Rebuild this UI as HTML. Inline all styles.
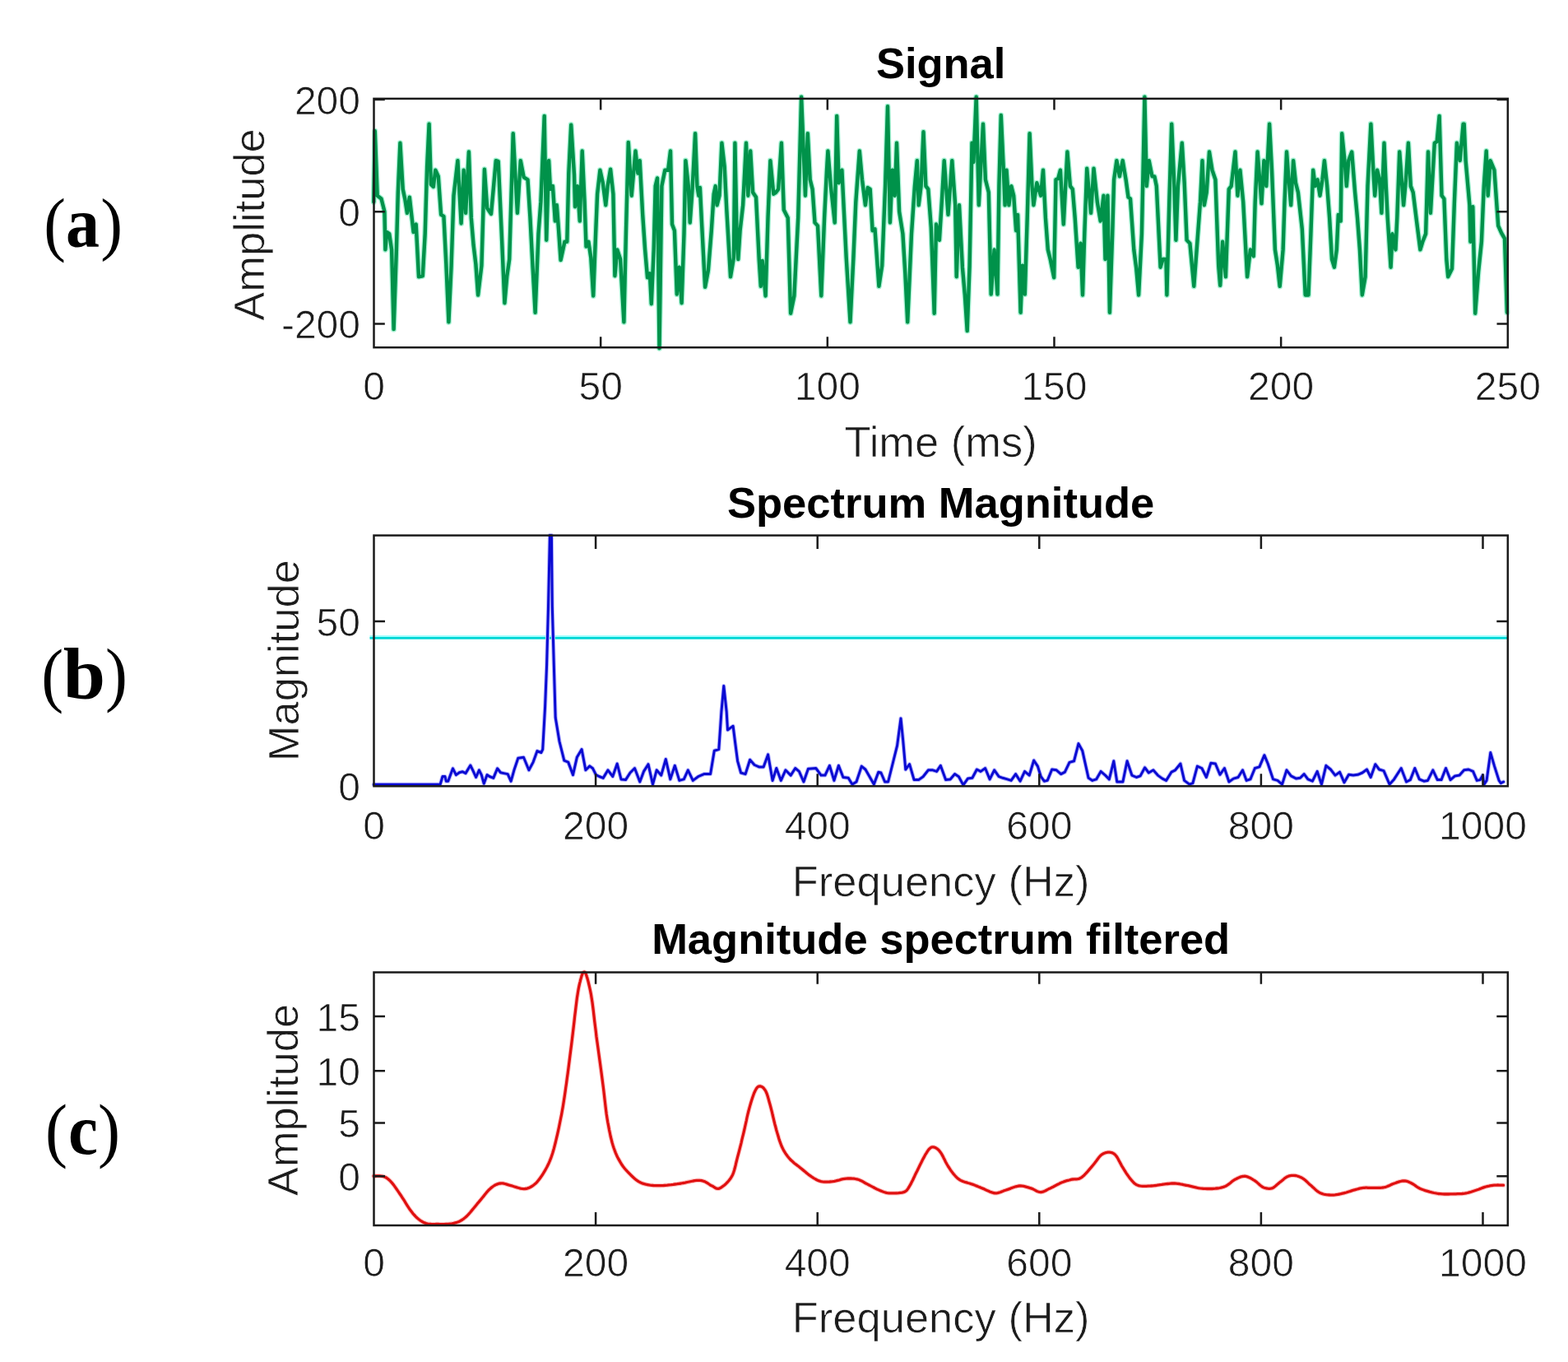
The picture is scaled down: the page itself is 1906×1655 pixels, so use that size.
<!DOCTYPE html>
<html><head><meta charset="utf-8"><title>Signal spectrum figure</title>
<style>html,body{margin:0;padding:0;background:#fff;}body{width:1906px;height:1655px;overflow:hidden;}svg{display:block;filter:blur(0.45px);}</style>
</head><body>
<svg width="1906" height="1655" viewBox="0 0 1906 1655" font-family="'Liberation Sans', Arial, Helvetica, sans-serif">
<rect width="1906" height="1655" fill="#fff"/>
<polyline points="454.3,245.4 455.8,159.3 458.7,237.7 463.5,241.5 467.4,257.0 468.4,303.4 470.3,282.1 473.2,284.1 476.1,303.4 478.6,400.1 481.9,303.4 483.8,233.8 486.4,173.8 489.7,229.9 492.3,242.0 494.9,258.9 497.8,239.6 501.3,270.5 502.6,282.1 505.7,272.5 509.0,336.3 513.8,335.3 516.7,284.1 519.1,202.8 521.6,150.6 523.9,224.1 526.8,227.0 529.3,206.7 532.8,214.4 536.1,260.9 539.4,262.8 542.4,322.2 545.4,391.4 548.6,322.8 551.5,237.7 556.4,195.1 560.6,271.5 563.7,206.7 566.1,258.9 569.9,184.5 572.8,264.7 575.6,298.1 578.4,321.3 581.1,358.5 585.4,322.8 588.9,205.7 592.2,253.1 597.0,259.9 599.9,228.0 602.8,195.1 605.7,196.1 609.6,280.3 613.4,368.2 616.3,335.4 619.2,315.0 623.7,162.2 626.3,210.7 628.9,258.9 632.8,195.1 636.7,215.4 641.5,218.3 644.5,265.7 647.6,325.1 650.6,379.8 654.5,284.1 657.4,245.4 661.7,140.9 664.2,291.8 667.1,195.1 669.0,229.9 671.9,226.1 674.8,268.6 676.8,249.3 678.7,274.4 681.6,316.0 686.4,293.8 689.3,293.8 691.3,210.6 694.2,151.6 698.0,212.5 699.0,251.2 701.9,226.1 704.8,268.6 707.7,183.5 710.6,245.4 712.5,299.6 715.4,293.8 718.3,313.1 721.2,359.5 724.1,284.1 726.1,235.7 729.4,206.7 732.8,222.2 736.3,249.3 738.6,226.1 742.1,205.7 745.4,235.7 747.4,335.3 750.3,303.4 754.1,315.0 758.4,391.4 760.9,284.1 763.8,172.9 767.7,237.7 772.5,183.5 775.4,210.6 777.7,195.1 781.2,260.9 784.1,303.4 787.0,337.3 789.9,332.4 791.8,369.2 794.7,303.4 796.7,226.1 799.0,216.4 801.5,423.3 804.4,226.1 808.3,206.7 812.1,206.7 815.0,183.5 817.0,272.5 819.9,280.2 822.8,357.6 825.7,324.7 828.6,368.2 831.5,284.1 833.4,195.1 836.8,226.1 838.7,270.5 841.6,229.9 845.1,162.2 847.4,226.1 849.3,237.7 850.9,228.0 853.2,274.4 857.1,348.9 860.9,328.6 864.8,280.2 867.7,235.7 869.7,226.1 871.6,249.3 874.5,237.7 877.4,173.8 880.7,202.8 883.2,253.1 888.0,336.3 891.9,313.1 893.4,173.8 895.8,293.8 897.3,315.0 899.6,280.2 903.1,249.3 907.0,173.8 909.3,237.7 912.2,183.5 915.1,233.8 919.0,239.6 922.8,317.0 924.8,347.9 926.7,317.0 930.6,359.5 933.5,264.7 936.4,195.1 940.3,235.7 943.2,233.8 946.1,229.9 949.9,173.8 952.8,255.1 957.7,264.7 961.1,380.8 965.4,359.5 970.2,264.7 974.1,117.7 978.9,237.7 981.8,162.2 984.7,218.3 987.6,229.9 990.5,270.5 994.0,274.4 998.3,359.5 1002.1,264.7 1005.0,206.7 1006.4,183.5 1009.9,226.1 1014.7,270.5 1017.2,140.9 1019.6,222.2 1023.4,206.7 1025.8,255.1 1028.7,313.1 1033.5,391.4 1037.4,313.1 1040.3,245.4 1044.8,183.5 1048.0,218.3 1051.9,249.3 1054.8,228.0 1057.7,229.9 1060.6,280.2 1063.5,278.3 1068.4,347.9 1072.2,322.8 1076.1,226.1 1079.0,129.3 1081.9,270.5 1084.8,206.7 1087.7,237.7 1090.0,173.8 1093.1,257.0 1097.4,284.1 1100.3,331.7 1103.2,391.4 1108.0,284.1 1111.9,226.1 1114.8,195.1 1116.7,249.3 1119.6,226.1 1122.5,160.3 1125.4,226.1 1128.3,229.9 1131.8,276.3 1135.7,380.8 1138.0,272.5 1141.9,291.8 1144.8,245.4 1147.7,195.1 1152.5,260.9 1157.3,195.1 1161.2,249.3 1162.7,336.3 1166.0,249.3 1169.9,324.7 1172.8,357.7 1175.7,402.1 1178.6,322.8 1181.5,173.8 1183.4,197.0 1186.7,117.7 1189.8,249.3 1192.4,198.9 1195.0,150.6 1197.9,218.3 1201.8,233.8 1204.7,357.6 1208.6,303.4 1212.5,357.6 1214.4,226.1 1216.8,140.0 1219.7,202.8 1221.6,249.3 1223.5,206.7 1226.4,249.3 1229.3,226.1 1232.2,237.7 1235.1,280.2 1237.1,260.9 1240.6,379.8 1242.9,322.8 1245.8,357.6 1248.7,264.7 1251.6,162.2 1254.5,226.1 1256.4,249.3 1260.3,222.2 1265.1,237.7 1268.0,206.7 1270.9,264.7 1273.8,303.4 1276.7,315.0 1281.2,337.3 1283.5,218.3 1286.2,217.1 1288.9,206.7 1292.8,272.5 1297.4,184.5 1300.9,226.1 1303.8,229.9 1306.7,264.7 1310.6,324.7 1313.5,295.7 1316.0,358.5 1318.3,284.1 1321.2,204.8 1326.1,258.9 1329.5,204.8 1333.8,245.4 1337.7,268.6 1341.5,237.7 1343.5,315.0 1346.4,237.7 1348.9,379.8 1352.2,284.1 1354.1,218.3 1357.4,195.1 1360.9,214.4 1364.7,195.1 1368.6,218.3 1371.5,239.6 1374.0,241.5 1378.3,303.4 1381.2,325.7 1384.1,358.5 1387.9,284.1 1391.4,117.7 1393.8,226.1 1396.7,195.1 1400.5,214.4 1403.4,214.4 1405.8,226.1 1410.6,324.7 1413.5,315.0 1417.4,315.0 1418.4,358.5 1421.3,245.4 1424.2,150.6 1427.1,218.3 1429.4,291.8 1431.9,226.1 1436.8,173.8 1439.7,222.2 1442.6,291.8 1446.4,295.7 1451.3,347.9 1456.1,284.1 1459.0,245.4 1461.5,195.1 1463.8,249.3 1466.7,233.8 1470.0,184.5 1473.5,206.7 1477.4,218.3 1481.2,322.8 1483.2,346.9 1486.1,293.8 1489.9,336.3 1493.8,229.9 1496.7,226.1 1501.5,184.5 1504.4,237.7 1507.4,206.7 1511.2,245.4 1516.1,336.3 1519.9,303.4 1523.8,311.2 1525.7,245.4 1528.6,184.5 1533.5,247.3 1536.4,195.1 1539.3,226.1 1543.1,150.6 1546.0,206.7 1549.9,303.4 1552.8,321.8 1555.7,347.9 1559.6,303.4 1561.5,245.4 1564.0,184.5 1566.6,218.7 1569.2,249.3 1572.1,195.1 1575.0,222.2 1577.9,233.8 1582.8,278.3 1586.7,358.5 1590.5,358.5 1593.4,284.1 1596.2,206.7 1598.7,226.1 1601.6,218.3 1604.5,237.7 1607.4,218.3 1609.9,195.1 1613.2,226.1 1616.1,264.7 1619.0,315.0 1621.9,324.7 1624.8,303.4 1626.8,260.9 1629.7,268.6 1631.2,162.2 1634.5,195.1 1636.8,226.1 1639.3,195.1 1643.2,184.5 1647.1,233.8 1650.0,264.7 1652.9,303.4 1655.8,358.5 1659.6,336.3 1662.5,226.1 1666.4,150.6 1669.3,206.7 1671.2,237.7 1674.1,206.7 1677.0,218.3 1679.4,258.9 1682.5,173.8 1684.8,226.1 1686.7,264.7 1690.6,324.7 1692.5,284.1 1696.4,303.4 1698.3,264.7 1701.2,184.5 1706.1,249.3 1709.0,217.8 1711.9,173.8 1714.8,226.1 1717.7,233.8 1721.5,264.7 1726.4,303.4 1729.3,293.8 1733.1,284.1 1736.0,184.5 1738.9,258.9 1743.8,173.8 1746.7,171.9 1749.6,140.9 1752.5,237.7 1755.4,241.5 1758.3,315.0 1760.2,336.3 1765.0,326.6 1767.9,245.4 1770.9,173.8 1774.7,195.1 1778.6,150.6 1779.7,150.6 1781.6,195.1 1786.4,249.3 1787.4,293.8 1790.3,251.2 1793.2,380.8 1797.1,330.5 1800.9,293.8 1803.8,226.1 1806.7,183.5 1808.7,237.7 1811.6,195.1 1816.4,206.7 1821.2,274.4 1825.1,283.2 1829.0,289.9 1831.9,379.8" fill="none" stroke="#a8f2d4" stroke-width="7.0" stroke-linejoin="round" stroke-linecap="round"/>
<polyline points="454.3,245.4 455.8,159.3 458.7,237.7 463.5,241.5 467.4,257.0 468.4,303.4 470.3,282.1 473.2,284.1 476.1,303.4 478.6,400.1 481.9,303.4 483.8,233.8 486.4,173.8 489.7,229.9 492.3,242.0 494.9,258.9 497.8,239.6 501.3,270.5 502.6,282.1 505.7,272.5 509.0,336.3 513.8,335.3 516.7,284.1 519.1,202.8 521.6,150.6 523.9,224.1 526.8,227.0 529.3,206.7 532.8,214.4 536.1,260.9 539.4,262.8 542.4,322.2 545.4,391.4 548.6,322.8 551.5,237.7 556.4,195.1 560.6,271.5 563.7,206.7 566.1,258.9 569.9,184.5 572.8,264.7 575.6,298.1 578.4,321.3 581.1,358.5 585.4,322.8 588.9,205.7 592.2,253.1 597.0,259.9 599.9,228.0 602.8,195.1 605.7,196.1 609.6,280.3 613.4,368.2 616.3,335.4 619.2,315.0 623.7,162.2 626.3,210.7 628.9,258.9 632.8,195.1 636.7,215.4 641.5,218.3 644.5,265.7 647.6,325.1 650.6,379.8 654.5,284.1 657.4,245.4 661.7,140.9 664.2,291.8 667.1,195.1 669.0,229.9 671.9,226.1 674.8,268.6 676.8,249.3 678.7,274.4 681.6,316.0 686.4,293.8 689.3,293.8 691.3,210.6 694.2,151.6 698.0,212.5 699.0,251.2 701.9,226.1 704.8,268.6 707.7,183.5 710.6,245.4 712.5,299.6 715.4,293.8 718.3,313.1 721.2,359.5 724.1,284.1 726.1,235.7 729.4,206.7 732.8,222.2 736.3,249.3 738.6,226.1 742.1,205.7 745.4,235.7 747.4,335.3 750.3,303.4 754.1,315.0 758.4,391.4 760.9,284.1 763.8,172.9 767.7,237.7 772.5,183.5 775.4,210.6 777.7,195.1 781.2,260.9 784.1,303.4 787.0,337.3 789.9,332.4 791.8,369.2 794.7,303.4 796.7,226.1 799.0,216.4 801.5,423.3 804.4,226.1 808.3,206.7 812.1,206.7 815.0,183.5 817.0,272.5 819.9,280.2 822.8,357.6 825.7,324.7 828.6,368.2 831.5,284.1 833.4,195.1 836.8,226.1 838.7,270.5 841.6,229.9 845.1,162.2 847.4,226.1 849.3,237.7 850.9,228.0 853.2,274.4 857.1,348.9 860.9,328.6 864.8,280.2 867.7,235.7 869.7,226.1 871.6,249.3 874.5,237.7 877.4,173.8 880.7,202.8 883.2,253.1 888.0,336.3 891.9,313.1 893.4,173.8 895.8,293.8 897.3,315.0 899.6,280.2 903.1,249.3 907.0,173.8 909.3,237.7 912.2,183.5 915.1,233.8 919.0,239.6 922.8,317.0 924.8,347.9 926.7,317.0 930.6,359.5 933.5,264.7 936.4,195.1 940.3,235.7 943.2,233.8 946.1,229.9 949.9,173.8 952.8,255.1 957.7,264.7 961.1,380.8 965.4,359.5 970.2,264.7 974.1,117.7 978.9,237.7 981.8,162.2 984.7,218.3 987.6,229.9 990.5,270.5 994.0,274.4 998.3,359.5 1002.1,264.7 1005.0,206.7 1006.4,183.5 1009.9,226.1 1014.7,270.5 1017.2,140.9 1019.6,222.2 1023.4,206.7 1025.8,255.1 1028.7,313.1 1033.5,391.4 1037.4,313.1 1040.3,245.4 1044.8,183.5 1048.0,218.3 1051.9,249.3 1054.8,228.0 1057.7,229.9 1060.6,280.2 1063.5,278.3 1068.4,347.9 1072.2,322.8 1076.1,226.1 1079.0,129.3 1081.9,270.5 1084.8,206.7 1087.7,237.7 1090.0,173.8 1093.1,257.0 1097.4,284.1 1100.3,331.7 1103.2,391.4 1108.0,284.1 1111.9,226.1 1114.8,195.1 1116.7,249.3 1119.6,226.1 1122.5,160.3 1125.4,226.1 1128.3,229.9 1131.8,276.3 1135.7,380.8 1138.0,272.5 1141.9,291.8 1144.8,245.4 1147.7,195.1 1152.5,260.9 1157.3,195.1 1161.2,249.3 1162.7,336.3 1166.0,249.3 1169.9,324.7 1172.8,357.7 1175.7,402.1 1178.6,322.8 1181.5,173.8 1183.4,197.0 1186.7,117.7 1189.8,249.3 1192.4,198.9 1195.0,150.6 1197.9,218.3 1201.8,233.8 1204.7,357.6 1208.6,303.4 1212.5,357.6 1214.4,226.1 1216.8,140.0 1219.7,202.8 1221.6,249.3 1223.5,206.7 1226.4,249.3 1229.3,226.1 1232.2,237.7 1235.1,280.2 1237.1,260.9 1240.6,379.8 1242.9,322.8 1245.8,357.6 1248.7,264.7 1251.6,162.2 1254.5,226.1 1256.4,249.3 1260.3,222.2 1265.1,237.7 1268.0,206.7 1270.9,264.7 1273.8,303.4 1276.7,315.0 1281.2,337.3 1283.5,218.3 1286.2,217.1 1288.9,206.7 1292.8,272.5 1297.4,184.5 1300.9,226.1 1303.8,229.9 1306.7,264.7 1310.6,324.7 1313.5,295.7 1316.0,358.5 1318.3,284.1 1321.2,204.8 1326.1,258.9 1329.5,204.8 1333.8,245.4 1337.7,268.6 1341.5,237.7 1343.5,315.0 1346.4,237.7 1348.9,379.8 1352.2,284.1 1354.1,218.3 1357.4,195.1 1360.9,214.4 1364.7,195.1 1368.6,218.3 1371.5,239.6 1374.0,241.5 1378.3,303.4 1381.2,325.7 1384.1,358.5 1387.9,284.1 1391.4,117.7 1393.8,226.1 1396.7,195.1 1400.5,214.4 1403.4,214.4 1405.8,226.1 1410.6,324.7 1413.5,315.0 1417.4,315.0 1418.4,358.5 1421.3,245.4 1424.2,150.6 1427.1,218.3 1429.4,291.8 1431.9,226.1 1436.8,173.8 1439.7,222.2 1442.6,291.8 1446.4,295.7 1451.3,347.9 1456.1,284.1 1459.0,245.4 1461.5,195.1 1463.8,249.3 1466.7,233.8 1470.0,184.5 1473.5,206.7 1477.4,218.3 1481.2,322.8 1483.2,346.9 1486.1,293.8 1489.9,336.3 1493.8,229.9 1496.7,226.1 1501.5,184.5 1504.4,237.7 1507.4,206.7 1511.2,245.4 1516.1,336.3 1519.9,303.4 1523.8,311.2 1525.7,245.4 1528.6,184.5 1533.5,247.3 1536.4,195.1 1539.3,226.1 1543.1,150.6 1546.0,206.7 1549.9,303.4 1552.8,321.8 1555.7,347.9 1559.6,303.4 1561.5,245.4 1564.0,184.5 1566.6,218.7 1569.2,249.3 1572.1,195.1 1575.0,222.2 1577.9,233.8 1582.8,278.3 1586.7,358.5 1590.5,358.5 1593.4,284.1 1596.2,206.7 1598.7,226.1 1601.6,218.3 1604.5,237.7 1607.4,218.3 1609.9,195.1 1613.2,226.1 1616.1,264.7 1619.0,315.0 1621.9,324.7 1624.8,303.4 1626.8,260.9 1629.7,268.6 1631.2,162.2 1634.5,195.1 1636.8,226.1 1639.3,195.1 1643.2,184.5 1647.1,233.8 1650.0,264.7 1652.9,303.4 1655.8,358.5 1659.6,336.3 1662.5,226.1 1666.4,150.6 1669.3,206.7 1671.2,237.7 1674.1,206.7 1677.0,218.3 1679.4,258.9 1682.5,173.8 1684.8,226.1 1686.7,264.7 1690.6,324.7 1692.5,284.1 1696.4,303.4 1698.3,264.7 1701.2,184.5 1706.1,249.3 1709.0,217.8 1711.9,173.8 1714.8,226.1 1717.7,233.8 1721.5,264.7 1726.4,303.4 1729.3,293.8 1733.1,284.1 1736.0,184.5 1738.9,258.9 1743.8,173.8 1746.7,171.9 1749.6,140.9 1752.5,237.7 1755.4,241.5 1758.3,315.0 1760.2,336.3 1765.0,326.6 1767.9,245.4 1770.9,173.8 1774.7,195.1 1778.6,150.6 1779.7,150.6 1781.6,195.1 1786.4,249.3 1787.4,293.8 1790.3,251.2 1793.2,380.8 1797.1,330.5 1800.9,293.8 1803.8,226.1 1806.7,183.5 1808.7,237.7 1811.6,195.1 1816.4,206.7 1821.2,274.4 1825.1,283.2 1829.0,289.9 1831.9,379.8" fill="none" stroke="#00924a" stroke-width="4.4" stroke-linejoin="round" stroke-linecap="round"/>
<line x1="449.5" y1="773.2" x2="1832.8" y2="773.2" stroke="#a0ffff" stroke-width="2.6"/>
<line x1="449.5" y1="775.4" x2="1832.8" y2="775.4" stroke="#00d6d4" stroke-width="2.8"/>
<polyline points="454.3,953.2 535.1,953.2 538.0,943.5 540.9,943.5 542.4,949.3 544.7,949.3 550.5,933.8 554.4,941.6 558.3,938.7 562.1,937.7 566.0,939.6 571.8,930.0 574.7,935.8 578.6,944.5 582.4,935.8 585.3,941.6 588.2,952.2 592.1,941.6 595.0,943.5 599.8,945.4 604.6,933.8 608.5,938.7 612.4,939.6 617.2,940.6 621.1,949.3 624.9,935.8 629.8,921.3 636.5,920.3 642.9,935.8 648.1,926.1 653.0,912.6 657.8,914.5 659.7,910.6 662.6,858.4 664.6,808.2 666.5,736.7 668.4,650.6 670.4,650.6 671.3,736.7 673.3,808.2 675.2,872.0 680.0,901.0 685.8,924.2 690.7,926.1 696.5,941.6 701.3,920.3 707.1,910.6 711.9,935.8 716.8,930.9 720.6,933.8 724.5,941.6 728.4,943.5 733.2,945.4 739.0,935.8 744.8,943.5 750.2,928.0 755.0,946.9 760.5,947.6 766.0,939.0 771.5,933.5 777.8,950.0 782.5,937.4 788.0,928.7 793.5,953.1 798.2,935.8 803.7,942.1 809.3,922.5 814.8,946.9 820.3,930.3 825.8,948.4 831.3,946.9 836.3,935.8 842.3,948.4 848.6,943.7 855.7,940.6 863.6,940.6 868.3,912.2 873.8,910.6 876.9,865.0 879.8,833.5 883.2,865.0 884.5,887.0 888.7,883.9 891.1,882.3 893.5,901.2 896.6,924.8 900.6,939.0 906.1,940.6 911.6,923.2 917.1,929.5 922.6,931.9 928.1,931.9 933.6,916.9 939.1,948.4 943.8,933.5 949.3,948.4 954.9,935.8 961.2,942.1 966.7,933.5 971.4,937.4 976.9,950.0 982.4,934.3 991.8,933.5 998.1,942.1 1002.9,942.1 1008.4,930.3 1013.9,948.4 1019.4,930.3 1024.9,944.5 1031.2,945.3 1035.9,953.1 1041.0,950.0 1047.3,931.1 1052.0,935.0 1062.3,953.1 1067.8,938.2 1070.9,939.0 1075.6,950.0 1079.6,950.0 1085.1,928.0 1090.6,905.9 1095.0,872.9 1097.7,899.6 1100.8,935.0 1105.6,928.7 1111.1,947.6 1116.6,947.6 1122.1,943.7 1128.4,935.8 1133.9,935.8 1138.6,937.4 1143.3,930.3 1149.6,947.6 1155.1,946.9 1160.6,940.6 1165.4,943.7 1170.9,953.9 1176.4,946.1 1181.9,945.3 1187.4,935.0 1192.1,937.4 1197.6,933.5 1203.1,946.9 1208.7,935.8 1214.2,943.7 1218.9,945.3 1224.4,946.9 1229.1,948.4 1234.6,940.6 1240.1,949.2 1245.6,937.4 1251.2,942.1 1256.7,924.0 1261.4,931.1 1265.3,943.7 1269.3,949.2 1273.2,948.4 1278.7,935.0 1284.2,935.8 1289.7,940.6 1294.4,938.2 1300.0,926.4 1305.5,924.8 1311.0,903.6 1315.7,912.2 1323.1,945.3 1327.9,948.4 1332.6,946.9 1338.1,937.4 1343.6,942.1 1348.3,946.9 1353.8,924.8 1357.8,950.0 1364.9,950.0 1370.1,924.8 1375.9,942.1 1381.4,944.5 1386.1,942.9 1391.6,932.7 1396.3,939.0 1401.9,935.8 1407.4,942.1 1412.9,946.1 1417.6,948.4 1423.9,938.2 1428.6,935.8 1434.9,928.0 1439.6,948.4 1445.9,953.1 1449.9,951.6 1455.4,931.1 1460.9,933.5 1466.4,944.5 1471.9,927.2 1477.4,928.0 1482.9,941.3 1488.4,933.5 1493.9,950.0 1499.4,946.1 1505.0,944.5 1510.5,935.8 1515.2,948.4 1519.9,946.9 1525.4,933.5 1530.9,931.9 1536.9,917.7 1541.2,928.0 1547.5,946.9 1553.0,948.4 1558.5,953.1 1564.0,935.8 1569.4,942.9 1575.7,946.1 1580.5,945.3 1585.2,940.6 1589.9,946.9 1595.4,949.2 1601.2,937.4 1606.4,953.1 1611.9,930.3 1617.5,935.0 1623.0,942.1 1628.5,938.2 1634.0,950.8 1639.5,941.3 1645.0,942.1 1650.5,941.3 1656.0,939.0 1661.5,935.0 1666.2,944.5 1671.8,928.7 1676.5,935.0 1682.0,936.6 1689.1,953.1 1694.6,946.9 1703.2,933.5 1709.5,950.0 1714.3,947.6 1719.8,933.5 1725.3,946.9 1730.8,949.2 1735.5,948.4 1741.8,935.8 1747.3,947.6 1752.0,947.6 1757.5,933.5 1763.1,947.6 1768.6,942.9 1774.1,942.1 1779.6,935.8 1785.1,935.0 1790.6,937.4 1795.3,948.4 1799.3,947.6 1802.4,942.1 1804.0,953.1 1807.1,948.4 1811.8,914.6 1816.6,931.1 1822.1,948.4 1824.4,951.6 1827.6,950.0" fill="none" stroke="#b8b8ff" stroke-width="5.0" stroke-linejoin="round" stroke-linecap="round"/>
<polyline points="454.3,953.2 535.1,953.2 538.0,943.5 540.9,943.5 542.4,949.3 544.7,949.3 550.5,933.8 554.4,941.6 558.3,938.7 562.1,937.7 566.0,939.6 571.8,930.0 574.7,935.8 578.6,944.5 582.4,935.8 585.3,941.6 588.2,952.2 592.1,941.6 595.0,943.5 599.8,945.4 604.6,933.8 608.5,938.7 612.4,939.6 617.2,940.6 621.1,949.3 624.9,935.8 629.8,921.3 636.5,920.3 642.9,935.8 648.1,926.1 653.0,912.6 657.8,914.5 659.7,910.6 662.6,858.4 664.6,808.2 666.5,736.7 668.4,650.6 670.4,650.6 671.3,736.7 673.3,808.2 675.2,872.0 680.0,901.0 685.8,924.2 690.7,926.1 696.5,941.6 701.3,920.3 707.1,910.6 711.9,935.8 716.8,930.9 720.6,933.8 724.5,941.6 728.4,943.5 733.2,945.4 739.0,935.8 744.8,943.5 750.2,928.0 755.0,946.9 760.5,947.6 766.0,939.0 771.5,933.5 777.8,950.0 782.5,937.4 788.0,928.7 793.5,953.1 798.2,935.8 803.7,942.1 809.3,922.5 814.8,946.9 820.3,930.3 825.8,948.4 831.3,946.9 836.3,935.8 842.3,948.4 848.6,943.7 855.7,940.6 863.6,940.6 868.3,912.2 873.8,910.6 876.9,865.0 879.8,833.5 883.2,865.0 884.5,887.0 888.7,883.9 891.1,882.3 893.5,901.2 896.6,924.8 900.6,939.0 906.1,940.6 911.6,923.2 917.1,929.5 922.6,931.9 928.1,931.9 933.6,916.9 939.1,948.4 943.8,933.5 949.3,948.4 954.9,935.8 961.2,942.1 966.7,933.5 971.4,937.4 976.9,950.0 982.4,934.3 991.8,933.5 998.1,942.1 1002.9,942.1 1008.4,930.3 1013.9,948.4 1019.4,930.3 1024.9,944.5 1031.2,945.3 1035.9,953.1 1041.0,950.0 1047.3,931.1 1052.0,935.0 1062.3,953.1 1067.8,938.2 1070.9,939.0 1075.6,950.0 1079.6,950.0 1085.1,928.0 1090.6,905.9 1095.0,872.9 1097.7,899.6 1100.8,935.0 1105.6,928.7 1111.1,947.6 1116.6,947.6 1122.1,943.7 1128.4,935.8 1133.9,935.8 1138.6,937.4 1143.3,930.3 1149.6,947.6 1155.1,946.9 1160.6,940.6 1165.4,943.7 1170.9,953.9 1176.4,946.1 1181.9,945.3 1187.4,935.0 1192.1,937.4 1197.6,933.5 1203.1,946.9 1208.7,935.8 1214.2,943.7 1218.9,945.3 1224.4,946.9 1229.1,948.4 1234.6,940.6 1240.1,949.2 1245.6,937.4 1251.2,942.1 1256.7,924.0 1261.4,931.1 1265.3,943.7 1269.3,949.2 1273.2,948.4 1278.7,935.0 1284.2,935.8 1289.7,940.6 1294.4,938.2 1300.0,926.4 1305.5,924.8 1311.0,903.6 1315.7,912.2 1323.1,945.3 1327.9,948.4 1332.6,946.9 1338.1,937.4 1343.6,942.1 1348.3,946.9 1353.8,924.8 1357.8,950.0 1364.9,950.0 1370.1,924.8 1375.9,942.1 1381.4,944.5 1386.1,942.9 1391.6,932.7 1396.3,939.0 1401.9,935.8 1407.4,942.1 1412.9,946.1 1417.6,948.4 1423.9,938.2 1428.6,935.8 1434.9,928.0 1439.6,948.4 1445.9,953.1 1449.9,951.6 1455.4,931.1 1460.9,933.5 1466.4,944.5 1471.9,927.2 1477.4,928.0 1482.9,941.3 1488.4,933.5 1493.9,950.0 1499.4,946.1 1505.0,944.5 1510.5,935.8 1515.2,948.4 1519.9,946.9 1525.4,933.5 1530.9,931.9 1536.9,917.7 1541.2,928.0 1547.5,946.9 1553.0,948.4 1558.5,953.1 1564.0,935.8 1569.4,942.9 1575.7,946.1 1580.5,945.3 1585.2,940.6 1589.9,946.9 1595.4,949.2 1601.2,937.4 1606.4,953.1 1611.9,930.3 1617.5,935.0 1623.0,942.1 1628.5,938.2 1634.0,950.8 1639.5,941.3 1645.0,942.1 1650.5,941.3 1656.0,939.0 1661.5,935.0 1666.2,944.5 1671.8,928.7 1676.5,935.0 1682.0,936.6 1689.1,953.1 1694.6,946.9 1703.2,933.5 1709.5,950.0 1714.3,947.6 1719.8,933.5 1725.3,946.9 1730.8,949.2 1735.5,948.4 1741.8,935.8 1747.3,947.6 1752.0,947.6 1757.5,933.5 1763.1,947.6 1768.6,942.9 1774.1,942.1 1779.6,935.8 1785.1,935.0 1790.6,937.4 1795.3,948.4 1799.3,947.6 1802.4,942.1 1804.0,953.1 1807.1,948.4 1811.8,914.6 1816.6,931.1 1822.1,948.4 1824.4,951.6 1827.6,950.0" fill="none" stroke="#0a0ad2" stroke-width="3.0" stroke-linejoin="round" stroke-linecap="round"/>
<polyline points="454.2,1429.0 455.2,1429.0 456.5,1429.0 458.1,1428.9 459.8,1428.9 461.6,1428.9 463.4,1429.1 465.0,1429.3 466.5,1429.7 467.8,1430.2 469.0,1430.8 470.2,1431.5 471.3,1432.3 472.4,1433.2 473.5,1434.2 474.7,1435.4 476.0,1436.8 477.3,1438.4 478.7,1440.1 480.1,1442.1 481.6,1444.2 483.1,1446.4 484.6,1448.6 486.2,1451.0 487.8,1453.3 489.4,1455.8 491.2,1458.5 492.9,1461.4 494.7,1464.3 496.5,1467.1 498.3,1469.8 500.2,1472.3 501.9,1474.6 503.7,1476.5 505.4,1478.3 507.1,1480.0 508.9,1481.5 510.6,1482.8 512.4,1484.0 514.2,1485.0 516.1,1485.9 518.0,1486.6 520.0,1487.1 522.0,1487.3 524.1,1487.5 526.2,1487.6 528.3,1487.6 530.4,1487.5 532.6,1487.5 534.9,1487.6 537.3,1487.6 539.8,1487.6 542.2,1487.5 544.7,1487.4 547.1,1487.1 549.4,1486.8 551.5,1486.4 553.5,1485.8 555.3,1485.3 557.1,1484.7 558.8,1483.9 560.4,1483.1 562.1,1482.0 563.8,1480.8 565.7,1479.3 567.7,1477.5 569.7,1475.3 571.8,1473.0 573.9,1470.4 576.1,1467.8 578.2,1465.2 580.2,1462.7 582.2,1460.4 584.1,1458.1 586.0,1455.8 587.8,1453.6 589.6,1451.3 591.3,1449.2 593.1,1447.2 594.7,1445.4 596.4,1443.9 598.0,1442.6 599.5,1441.5 601.0,1440.5 602.4,1439.7 603.9,1439.1 605.3,1438.6 606.7,1438.2 608.2,1438.0 609.6,1437.9 611.0,1437.9 612.4,1438.2 613.8,1438.5 615.2,1438.9 616.7,1439.4 618.3,1439.9 620.0,1440.3 621.9,1440.8 623.9,1441.5 626.0,1442.2 628.3,1442.9 630.5,1443.5 632.6,1444.1 634.6,1444.4 636.5,1444.6 638.2,1444.5 639.9,1444.3 641.4,1443.9 642.9,1443.4 644.3,1442.8 645.6,1442.0 647.0,1441.2 648.3,1440.3 649.6,1439.3 650.8,1438.3 652.0,1437.1 653.2,1435.8 654.3,1434.4 655.5,1432.9 656.6,1431.4 657.8,1429.7 659.0,1428.0 660.2,1426.1 661.4,1424.1 662.6,1422.1 663.8,1420.0 665.0,1417.8 666.1,1415.5 667.2,1413.2 668.2,1410.9 669.1,1408.6 670.0,1406.3 670.8,1403.9 671.7,1401.3 672.5,1398.5 673.4,1395.4 674.3,1391.9 675.3,1388.0 676.3,1383.6 677.4,1379.0 678.5,1374.1 679.6,1369.0 680.6,1364.0 681.6,1359.0 682.6,1354.2 683.4,1349.5 684.2,1345.1 684.9,1340.7 685.6,1336.3 686.3,1331.8 687.0,1327.0 687.7,1321.9 688.5,1316.4 689.3,1310.3 690.2,1303.9 691.1,1297.0 692.0,1290.0 692.9,1282.8 693.8,1275.7 694.7,1268.8 695.5,1262.1 696.3,1255.5 697.1,1248.7 697.9,1242.0 698.6,1235.4 699.4,1229.0 700.1,1223.0 700.8,1217.4 701.4,1212.5 702.1,1208.2 702.7,1204.4 703.3,1201.0 703.9,1198.1 704.5,1195.4 705.1,1193.1 705.6,1190.9 706.2,1188.9 706.7,1187.1 707.1,1185.6 707.6,1184.3 708.0,1183.3 708.4,1182.5 708.8,1181.9 709.3,1181.6 709.7,1181.3 710.1,1181.2 710.5,1181.2 710.9,1181.4 711.3,1181.8 711.7,1182.5 712.2,1183.5 712.7,1184.8 713.2,1186.5 713.9,1188.6 714.6,1191.1 715.3,1193.8 716.0,1196.9 716.8,1200.3 717.6,1204.0 718.4,1208.1 719.1,1212.5 719.9,1217.4 720.6,1222.7 721.3,1228.4 722.0,1234.5 722.7,1240.7 723.5,1247.1 724.3,1253.4 725.0,1259.7 725.9,1266.0 726.8,1272.5 727.7,1279.1 728.6,1285.7 729.5,1292.3 730.4,1298.9 731.3,1305.4 732.1,1311.7 732.9,1317.9 733.7,1324.1 734.4,1330.3 735.1,1336.4 735.8,1342.4 736.5,1348.2 737.2,1353.7 738.0,1358.9 738.8,1363.8 739.7,1368.4 740.5,1372.8 741.4,1377.0 742.2,1381.0 743.2,1384.8 744.1,1388.5 745.1,1391.9 746.2,1395.2 747.3,1398.2 748.4,1401.1 749.5,1403.7 750.7,1406.2 752.0,1408.6 753.3,1410.9 754.6,1413.2 755.9,1415.3 757.3,1417.3 758.8,1419.2 760.3,1421.0 761.8,1422.7 763.4,1424.3 764.9,1425.8 766.4,1427.3 767.8,1428.8 769.3,1430.2 770.7,1431.5 772.1,1432.7 773.6,1433.9 775.1,1435.0 776.6,1435.9 778.2,1436.8 779.8,1437.5 781.5,1438.2 783.2,1438.7 785.0,1439.1 786.7,1439.5 788.6,1439.8 790.4,1440.1 792.3,1440.3 794.3,1440.5 796.2,1440.6 798.3,1440.7 800.3,1440.7 802.4,1440.7 804.5,1440.6 806.7,1440.5 808.9,1440.3 811.1,1440.2 813.4,1439.9 815.8,1439.7 818.2,1439.4 820.6,1439.0 823.0,1438.7 825.4,1438.3 827.8,1438.0 830.2,1437.5 832.7,1437.1 835.2,1436.5 837.8,1436.0 840.2,1435.5 842.6,1435.0 844.7,1434.7 846.6,1434.4 848.3,1434.3 849.7,1434.3 850.9,1434.3 852.0,1434.5 853.0,1434.6 853.9,1434.9 855.0,1435.2 856.1,1435.6 857.3,1436.1 858.4,1436.7 859.6,1437.4 860.8,1438.2 862.0,1439.0 863.2,1439.8 864.3,1440.5 865.5,1441.0 866.7,1441.6 867.8,1442.3 868.8,1443.0 869.9,1443.7 871.1,1444.2 872.3,1444.4 873.5,1444.3 875.0,1443.9 876.6,1443.0 878.4,1441.7 880.4,1440.2 882.4,1438.4 884.3,1436.5 886.2,1434.3 888.0,1432.0 889.4,1429.7 890.7,1427.2 891.7,1424.6 892.6,1421.7 893.4,1418.8 894.2,1415.7 894.9,1412.5 895.7,1409.3 896.5,1406.1 897.4,1402.8 898.3,1399.4 899.2,1395.9 900.1,1392.4 901.0,1388.8 901.8,1385.1 902.7,1381.4 903.6,1377.8 904.5,1374.0 905.4,1370.0 906.3,1366.0 907.2,1362.0 908.0,1358.0 908.9,1354.1 909.8,1350.5 910.7,1347.1 911.6,1343.9 912.5,1340.7 913.4,1337.7 914.3,1334.9 915.2,1332.3 916.1,1329.8 916.9,1327.7 917.8,1325.8 918.6,1324.3 919.3,1323.0 920.0,1322.0 920.7,1321.2 921.4,1320.6 922.1,1320.2 922.9,1320.0 923.7,1319.9 924.5,1320.0 925.4,1320.3 926.3,1320.7 927.2,1321.3 928.1,1322.1 929.0,1323.2 929.9,1324.4 930.8,1325.8 931.5,1327.5 932.3,1329.4 933.0,1331.5 933.7,1333.9 934.4,1336.4 935.1,1339.0 935.9,1341.8 936.7,1344.7 937.5,1347.8 938.4,1351.3 939.2,1355.0 940.1,1358.7 941.0,1362.5 941.9,1366.2 942.9,1369.8 943.7,1373.0 944.6,1376.1 945.5,1379.0 946.3,1381.8 947.1,1384.6 948.0,1387.2 948.9,1389.6 949.8,1392.0 950.8,1394.3 951.9,1396.4 952.9,1398.4 954.0,1400.2 955.1,1402.0 956.3,1403.6 957.5,1405.2 958.8,1406.8 960.3,1408.5 961.8,1410.1 963.5,1411.6 965.3,1413.2 967.2,1414.7 969.1,1416.1 971.0,1417.5 972.7,1418.9 974.4,1420.3 976.0,1421.6 977.6,1422.9 979.0,1424.1 980.5,1425.4 981.9,1426.5 983.3,1427.6 984.8,1428.7 986.2,1429.7 987.7,1430.7 989.1,1431.6 990.6,1432.4 992.0,1433.2 993.4,1434.0 994.9,1434.6 996.5,1435.2 998.0,1435.6 999.7,1435.9 1001.4,1436.1 1003.1,1436.2 1004.8,1436.2 1006.6,1436.1 1008.4,1436.0 1010.3,1435.8 1012.2,1435.6 1014.2,1435.3 1016.2,1434.9 1018.3,1434.3 1020.5,1433.8 1022.6,1433.2 1024.7,1432.7 1026.8,1432.3 1028.7,1432.1 1030.6,1432.0 1032.5,1431.9 1034.3,1432.0 1036.1,1432.1 1037.9,1432.2 1039.6,1432.5 1041.3,1432.8 1042.9,1433.2 1044.5,1433.7 1046.0,1434.4 1047.4,1435.1 1048.8,1435.8 1050.2,1436.6 1051.6,1437.5 1053.1,1438.3 1054.7,1439.1 1056.4,1440.0 1058.1,1440.9 1060.0,1441.9 1061.8,1442.8 1063.6,1443.8 1065.4,1444.7 1067.2,1445.5 1068.9,1446.2 1070.4,1446.9 1071.9,1447.5 1073.2,1448.0 1074.6,1448.5 1075.9,1448.9 1077.4,1449.3 1078.9,1449.6 1080.7,1449.8 1082.7,1449.9 1084.9,1449.9 1087.4,1449.9 1089.8,1449.8 1092.3,1449.7 1094.6,1449.4 1096.6,1449.1 1098.4,1448.6 1099.8,1448.1 1100.9,1447.5 1101.8,1446.8 1102.5,1446.0 1103.2,1445.1 1103.9,1444.1 1104.6,1442.9 1105.5,1441.5 1106.4,1439.9 1107.4,1438.1 1108.4,1436.1 1109.5,1434.0 1110.5,1431.8 1111.6,1429.5 1112.6,1427.2 1113.7,1425.0 1114.9,1422.7 1116.1,1420.2 1117.3,1417.7 1118.5,1415.2 1119.8,1412.7 1121.0,1410.3 1122.1,1408.1 1123.2,1406.1 1124.2,1404.3 1125.1,1402.6 1126.1,1401.1 1126.9,1399.7 1127.8,1398.4 1128.6,1397.3 1129.4,1396.3 1130.3,1395.5 1131.0,1394.8 1131.8,1394.3 1132.5,1394.0 1133.2,1393.8 1133.9,1393.8 1134.6,1393.9 1135.4,1394.0 1136.2,1394.3 1137.0,1394.6 1137.8,1395.0 1138.7,1395.6 1139.6,1396.2 1140.5,1397.0 1141.4,1397.9 1142.3,1399.0 1143.2,1400.2 1144.2,1401.7 1145.2,1403.4 1146.3,1405.4 1147.3,1407.5 1148.4,1409.6 1149.4,1411.7 1150.5,1413.7 1151.5,1415.5 1152.5,1417.2 1153.6,1418.8 1154.6,1420.4 1155.6,1422.0 1156.7,1423.4 1157.7,1424.8 1158.7,1426.1 1159.8,1427.3 1160.8,1428.5 1161.7,1429.5 1162.6,1430.4 1163.5,1431.3 1164.5,1432.1 1165.6,1432.9 1166.7,1433.7 1168.0,1434.4 1169.5,1435.1 1171.2,1435.8 1173.0,1436.4 1174.9,1436.9 1176.8,1437.5 1178.7,1438.0 1180.5,1438.6 1182.2,1439.1 1183.8,1439.7 1185.2,1440.3 1186.6,1440.9 1188.0,1441.4 1189.4,1442.0 1190.9,1442.6 1192.4,1443.2 1194.0,1443.9 1195.8,1444.6 1197.6,1445.5 1199.6,1446.4 1201.6,1447.3 1203.6,1448.2 1205.6,1448.9 1207.5,1449.5 1209.4,1449.8 1211.1,1449.8 1212.7,1449.6 1214.2,1449.2 1215.8,1448.7 1217.3,1448.1 1218.9,1447.5 1220.6,1446.8 1222.3,1446.2 1224.2,1445.6 1226.3,1444.9 1228.4,1444.1 1230.5,1443.2 1232.7,1442.5 1234.8,1441.8 1236.9,1441.3 1238.9,1441.0 1240.8,1441.0 1242.6,1441.1 1244.5,1441.4 1246.2,1441.8 1248.0,1442.3 1249.7,1442.8 1251.4,1443.4 1253.0,1443.9 1254.6,1444.4 1256.1,1445.1 1257.6,1445.9 1259.1,1446.7 1260.5,1447.4 1261.9,1448.0 1263.4,1448.4 1264.8,1448.6 1266.3,1448.5 1267.7,1448.1 1269.2,1447.6 1270.6,1447.0 1272.0,1446.2 1273.5,1445.4 1275.0,1444.6 1276.6,1443.9 1278.3,1443.1 1280.1,1442.2 1281.9,1441.2 1283.7,1440.3 1285.6,1439.3 1287.4,1438.4 1289.1,1437.5 1290.8,1436.8 1292.4,1436.2 1293.9,1435.6 1295.4,1435.1 1296.9,1434.7 1298.3,1434.3 1299.7,1434.0 1301.1,1433.6 1302.6,1433.2 1304.1,1433.0 1305.5,1432.9 1306.9,1432.8 1308.3,1432.8 1309.8,1432.7 1311.3,1432.4 1312.8,1431.8 1314.4,1430.9 1316.1,1429.6 1318.0,1427.9 1319.9,1425.9 1321.8,1423.8 1323.7,1421.6 1325.6,1419.4 1327.3,1417.4 1328.9,1415.5 1330.3,1413.8 1331.6,1412.1 1332.8,1410.5 1333.9,1408.9 1335.0,1407.4 1336.1,1406.0 1337.2,1404.8 1338.3,1403.7 1339.5,1402.8 1340.7,1402.1 1341.9,1401.5 1343.1,1401.0 1344.3,1400.6 1345.5,1400.4 1346.7,1400.2 1347.8,1400.2 1348.9,1400.2 1349.9,1400.3 1351.0,1400.5 1352.0,1400.9 1353.0,1401.3 1354.0,1401.9 1355.0,1402.7 1356.0,1403.7 1357.1,1405.0 1358.1,1406.5 1359.1,1408.3 1360.1,1410.2 1361.1,1412.1 1362.2,1414.1 1363.2,1416.1 1364.3,1417.9 1365.4,1419.7 1366.6,1421.6 1367.8,1423.5 1368.9,1425.4 1370.2,1427.2 1371.4,1428.9 1372.6,1430.6 1373.7,1432.1 1374.9,1433.4 1375.9,1434.7 1377.0,1435.9 1378.0,1437.0 1379.1,1438.0 1380.3,1438.9 1381.7,1439.7 1383.2,1440.3 1384.9,1440.8 1386.9,1441.1 1389.0,1441.3 1391.2,1441.3 1393.4,1441.3 1395.6,1441.2 1397.7,1441.1 1399.7,1441.0 1401.6,1440.9 1403.4,1440.7 1405.2,1440.5 1406.9,1440.2 1408.7,1439.9 1410.4,1439.6 1412.1,1439.4 1413.9,1439.1 1415.7,1438.9 1417.4,1438.7 1419.2,1438.5 1421.0,1438.3 1422.7,1438.1 1424.5,1438.0 1426.3,1437.9 1428.0,1438.0 1429.8,1438.1 1431.5,1438.3 1433.3,1438.5 1435.0,1438.9 1436.7,1439.2 1438.5,1439.6 1440.3,1440.0 1442.2,1440.3 1444.2,1440.7 1446.2,1441.2 1448.2,1441.7 1450.3,1442.2 1452.4,1442.7 1454.6,1443.2 1456.7,1443.6 1458.7,1443.9 1460.8,1444.1 1462.9,1444.3 1465.0,1444.4 1467.2,1444.5 1469.2,1444.5 1471.3,1444.5 1473.3,1444.5 1475.3,1444.3 1477.2,1444.2 1479.0,1444.0 1480.9,1443.8 1482.6,1443.5 1484.4,1443.1 1486.1,1442.7 1487.8,1442.1 1489.4,1441.5 1491.0,1440.7 1492.5,1439.7 1494.0,1438.6 1495.5,1437.5 1496.9,1436.3 1498.3,1435.1 1499.8,1434.1 1501.2,1433.2 1502.7,1432.5 1504.2,1431.7 1505.7,1431.0 1507.1,1430.4 1508.6,1429.9 1510.1,1429.5 1511.6,1429.3 1513.0,1429.2 1514.5,1429.4 1516.0,1429.8 1517.5,1430.4 1519.0,1431.1 1520.5,1431.8 1522.0,1432.7 1523.4,1433.6 1524.8,1434.4 1526.2,1435.4 1527.6,1436.4 1528.9,1437.6 1530.2,1438.8 1531.5,1440.0 1532.8,1441.0 1534.1,1442.0 1535.5,1442.7 1536.8,1443.2 1538.2,1443.7 1539.5,1444.0 1540.9,1444.2 1542.2,1444.3 1543.5,1444.3 1544.8,1444.2 1546.1,1443.9 1547.3,1443.4 1548.5,1442.7 1549.7,1441.8 1550.9,1440.8 1552.0,1439.8 1553.2,1438.8 1554.4,1437.7 1555.5,1436.8 1556.7,1435.9 1557.9,1434.9 1559.1,1433.9 1560.3,1432.9 1561.4,1431.9 1562.6,1431.1 1563.8,1430.3 1565.0,1429.7 1566.2,1429.2 1567.3,1428.9 1568.5,1428.6 1569.7,1428.4 1570.9,1428.4 1572.1,1428.3 1573.2,1428.4 1574.4,1428.5 1575.6,1428.7 1576.8,1429.0 1578.0,1429.3 1579.1,1429.7 1580.3,1430.2 1581.5,1430.7 1582.7,1431.4 1583.9,1432.1 1585.0,1432.9 1586.2,1433.8 1587.3,1434.8 1588.4,1435.8 1589.6,1436.9 1590.8,1438.1 1592.0,1439.2 1593.3,1440.3 1594.7,1441.5 1596.0,1442.8 1597.5,1444.1 1598.9,1445.4 1600.4,1446.7 1601.9,1447.9 1603.5,1448.9 1605.1,1449.8 1606.8,1450.4 1608.5,1451.0 1610.3,1451.4 1612.1,1451.7 1613.9,1451.9 1615.7,1452.0 1617.5,1452.1 1619.3,1452.1 1621.1,1452.1 1622.9,1451.9 1624.7,1451.6 1626.5,1451.3 1628.3,1451.0 1630.1,1450.6 1631.8,1450.2 1633.4,1449.8 1635.0,1449.4 1636.6,1449.0 1638.0,1448.5 1639.5,1448.0 1640.9,1447.6 1642.4,1447.1 1643.8,1446.6 1645.3,1446.2 1646.7,1445.8 1648.2,1445.4 1649.7,1445.0 1651.2,1444.6 1652.6,1444.2 1654.1,1443.9 1655.6,1443.6 1657.1,1443.4 1658.5,1443.3 1660.0,1443.2 1661.4,1443.2 1662.8,1443.3 1664.3,1443.3 1665.7,1443.4 1667.3,1443.4 1668.9,1443.4 1670.5,1443.4 1672.3,1443.4 1674.1,1443.4 1675.9,1443.3 1677.8,1443.3 1679.6,1443.2 1681.4,1443.0 1683.0,1442.7 1684.6,1442.3 1686.1,1441.8 1687.6,1441.1 1689.1,1440.5 1690.5,1439.8 1691.9,1439.1 1693.4,1438.5 1694.8,1438.0 1696.3,1437.5 1697.8,1436.9 1699.4,1436.4 1700.9,1435.9 1702.4,1435.5 1703.9,1435.2 1705.3,1435.0 1706.6,1434.9 1707.9,1435.0 1709.1,1435.1 1710.2,1435.4 1711.4,1435.8 1712.5,1436.3 1713.6,1436.8 1714.8,1437.3 1716.1,1438.0 1717.4,1438.7 1718.7,1439.5 1720.0,1440.4 1721.3,1441.4 1722.7,1442.3 1724.3,1443.3 1726.0,1444.2 1727.9,1445.0 1730.0,1445.8 1732.4,1446.6 1735.0,1447.4 1737.6,1448.2 1740.4,1448.9 1743.1,1449.5 1745.8,1450.0 1748.3,1450.5 1750.8,1450.7 1753.4,1450.9 1755.9,1451.0 1758.4,1451.0 1760.8,1451.0 1763.2,1450.9 1765.5,1450.9 1767.7,1450.8 1769.7,1450.8 1771.7,1450.7 1773.6,1450.7 1775.4,1450.6 1777.1,1450.5 1778.8,1450.3 1780.5,1450.1 1782.2,1449.8 1783.8,1449.5 1785.4,1449.1 1786.9,1448.7 1788.4,1448.2 1789.8,1447.7 1791.3,1447.2 1792.8,1446.7 1794.3,1446.2 1795.8,1445.7 1797.3,1445.2 1798.9,1444.6 1800.5,1444.0 1802.0,1443.4 1803.5,1442.9 1804.9,1442.4 1806.3,1442.0 1807.7,1441.6 1808.9,1441.3 1810.1,1441.1 1811.2,1440.8 1812.4,1440.6 1813.5,1440.5 1814.7,1440.3 1816.0,1440.2 1817.4,1440.1 1819.0,1440.1 1820.7,1440.0 1822.4,1440.1 1823.9,1440.1 1825.4,1440.1 1826.6,1440.2 1827.5,1440.2" fill="none" stroke="#ffc4c4" stroke-width="5.4" stroke-linejoin="round" stroke-linecap="round"/>
<polyline points="454.2,1429.0 455.2,1429.0 456.5,1429.0 458.1,1428.9 459.8,1428.9 461.6,1428.9 463.4,1429.1 465.0,1429.3 466.5,1429.7 467.8,1430.2 469.0,1430.8 470.2,1431.5 471.3,1432.3 472.4,1433.2 473.5,1434.2 474.7,1435.4 476.0,1436.8 477.3,1438.4 478.7,1440.1 480.1,1442.1 481.6,1444.2 483.1,1446.4 484.6,1448.6 486.2,1451.0 487.8,1453.3 489.4,1455.8 491.2,1458.5 492.9,1461.4 494.7,1464.3 496.5,1467.1 498.3,1469.8 500.2,1472.3 501.9,1474.6 503.7,1476.5 505.4,1478.3 507.1,1480.0 508.9,1481.5 510.6,1482.8 512.4,1484.0 514.2,1485.0 516.1,1485.9 518.0,1486.6 520.0,1487.1 522.0,1487.3 524.1,1487.5 526.2,1487.6 528.3,1487.6 530.4,1487.5 532.6,1487.5 534.9,1487.6 537.3,1487.6 539.8,1487.6 542.2,1487.5 544.7,1487.4 547.1,1487.1 549.4,1486.8 551.5,1486.4 553.5,1485.8 555.3,1485.3 557.1,1484.7 558.8,1483.9 560.4,1483.1 562.1,1482.0 563.8,1480.8 565.7,1479.3 567.7,1477.5 569.7,1475.3 571.8,1473.0 573.9,1470.4 576.1,1467.8 578.2,1465.2 580.2,1462.7 582.2,1460.4 584.1,1458.1 586.0,1455.8 587.8,1453.6 589.6,1451.3 591.3,1449.2 593.1,1447.2 594.7,1445.4 596.4,1443.9 598.0,1442.6 599.5,1441.5 601.0,1440.5 602.4,1439.7 603.9,1439.1 605.3,1438.6 606.7,1438.2 608.2,1438.0 609.6,1437.9 611.0,1437.9 612.4,1438.2 613.8,1438.5 615.2,1438.9 616.7,1439.4 618.3,1439.9 620.0,1440.3 621.9,1440.8 623.9,1441.5 626.0,1442.2 628.3,1442.9 630.5,1443.5 632.6,1444.1 634.6,1444.4 636.5,1444.6 638.2,1444.5 639.9,1444.3 641.4,1443.9 642.9,1443.4 644.3,1442.8 645.6,1442.0 647.0,1441.2 648.3,1440.3 649.6,1439.3 650.8,1438.3 652.0,1437.1 653.2,1435.8 654.3,1434.4 655.5,1432.9 656.6,1431.4 657.8,1429.7 659.0,1428.0 660.2,1426.1 661.4,1424.1 662.6,1422.1 663.8,1420.0 665.0,1417.8 666.1,1415.5 667.2,1413.2 668.2,1410.9 669.1,1408.6 670.0,1406.3 670.8,1403.9 671.7,1401.3 672.5,1398.5 673.4,1395.4 674.3,1391.9 675.3,1388.0 676.3,1383.6 677.4,1379.0 678.5,1374.1 679.6,1369.0 680.6,1364.0 681.6,1359.0 682.6,1354.2 683.4,1349.5 684.2,1345.1 684.9,1340.7 685.6,1336.3 686.3,1331.8 687.0,1327.0 687.7,1321.9 688.5,1316.4 689.3,1310.3 690.2,1303.9 691.1,1297.0 692.0,1290.0 692.9,1282.8 693.8,1275.7 694.7,1268.8 695.5,1262.1 696.3,1255.5 697.1,1248.7 697.9,1242.0 698.6,1235.4 699.4,1229.0 700.1,1223.0 700.8,1217.4 701.4,1212.5 702.1,1208.2 702.7,1204.4 703.3,1201.0 703.9,1198.1 704.5,1195.4 705.1,1193.1 705.6,1190.9 706.2,1188.9 706.7,1187.1 707.1,1185.6 707.6,1184.3 708.0,1183.3 708.4,1182.5 708.8,1181.9 709.3,1181.6 709.7,1181.3 710.1,1181.2 710.5,1181.2 710.9,1181.4 711.3,1181.8 711.7,1182.5 712.2,1183.5 712.7,1184.8 713.2,1186.5 713.9,1188.6 714.6,1191.1 715.3,1193.8 716.0,1196.9 716.8,1200.3 717.6,1204.0 718.4,1208.1 719.1,1212.5 719.9,1217.4 720.6,1222.7 721.3,1228.4 722.0,1234.5 722.7,1240.7 723.5,1247.1 724.3,1253.4 725.0,1259.7 725.9,1266.0 726.8,1272.5 727.7,1279.1 728.6,1285.7 729.5,1292.3 730.4,1298.9 731.3,1305.4 732.1,1311.7 732.9,1317.9 733.7,1324.1 734.4,1330.3 735.1,1336.4 735.8,1342.4 736.5,1348.2 737.2,1353.7 738.0,1358.9 738.8,1363.8 739.7,1368.4 740.5,1372.8 741.4,1377.0 742.2,1381.0 743.2,1384.8 744.1,1388.5 745.1,1391.9 746.2,1395.2 747.3,1398.2 748.4,1401.1 749.5,1403.7 750.7,1406.2 752.0,1408.6 753.3,1410.9 754.6,1413.2 755.9,1415.3 757.3,1417.3 758.8,1419.2 760.3,1421.0 761.8,1422.7 763.4,1424.3 764.9,1425.8 766.4,1427.3 767.8,1428.8 769.3,1430.2 770.7,1431.5 772.1,1432.7 773.6,1433.9 775.1,1435.0 776.6,1435.9 778.2,1436.8 779.8,1437.5 781.5,1438.2 783.2,1438.7 785.0,1439.1 786.7,1439.5 788.6,1439.8 790.4,1440.1 792.3,1440.3 794.3,1440.5 796.2,1440.6 798.3,1440.7 800.3,1440.7 802.4,1440.7 804.5,1440.6 806.7,1440.5 808.9,1440.3 811.1,1440.2 813.4,1439.9 815.8,1439.7 818.2,1439.4 820.6,1439.0 823.0,1438.7 825.4,1438.3 827.8,1438.0 830.2,1437.5 832.7,1437.1 835.2,1436.5 837.8,1436.0 840.2,1435.5 842.6,1435.0 844.7,1434.7 846.6,1434.4 848.3,1434.3 849.7,1434.3 850.9,1434.3 852.0,1434.5 853.0,1434.6 853.9,1434.9 855.0,1435.2 856.1,1435.6 857.3,1436.1 858.4,1436.7 859.6,1437.4 860.8,1438.2 862.0,1439.0 863.2,1439.8 864.3,1440.5 865.5,1441.0 866.7,1441.6 867.8,1442.3 868.8,1443.0 869.9,1443.7 871.1,1444.2 872.3,1444.4 873.5,1444.3 875.0,1443.9 876.6,1443.0 878.4,1441.7 880.4,1440.2 882.4,1438.4 884.3,1436.5 886.2,1434.3 888.0,1432.0 889.4,1429.7 890.7,1427.2 891.7,1424.6 892.6,1421.7 893.4,1418.8 894.2,1415.7 894.9,1412.5 895.7,1409.3 896.5,1406.1 897.4,1402.8 898.3,1399.4 899.2,1395.9 900.1,1392.4 901.0,1388.8 901.8,1385.1 902.7,1381.4 903.6,1377.8 904.5,1374.0 905.4,1370.0 906.3,1366.0 907.2,1362.0 908.0,1358.0 908.9,1354.1 909.8,1350.5 910.7,1347.1 911.6,1343.9 912.5,1340.7 913.4,1337.7 914.3,1334.9 915.2,1332.3 916.1,1329.8 916.9,1327.7 917.8,1325.8 918.6,1324.3 919.3,1323.0 920.0,1322.0 920.7,1321.2 921.4,1320.6 922.1,1320.2 922.9,1320.0 923.7,1319.9 924.5,1320.0 925.4,1320.3 926.3,1320.7 927.2,1321.3 928.1,1322.1 929.0,1323.2 929.9,1324.4 930.8,1325.8 931.5,1327.5 932.3,1329.4 933.0,1331.5 933.7,1333.9 934.4,1336.4 935.1,1339.0 935.9,1341.8 936.7,1344.7 937.5,1347.8 938.4,1351.3 939.2,1355.0 940.1,1358.7 941.0,1362.5 941.9,1366.2 942.9,1369.8 943.7,1373.0 944.6,1376.1 945.5,1379.0 946.3,1381.8 947.1,1384.6 948.0,1387.2 948.9,1389.6 949.8,1392.0 950.8,1394.3 951.9,1396.4 952.9,1398.4 954.0,1400.2 955.1,1402.0 956.3,1403.6 957.5,1405.2 958.8,1406.8 960.3,1408.5 961.8,1410.1 963.5,1411.6 965.3,1413.2 967.2,1414.7 969.1,1416.1 971.0,1417.5 972.7,1418.9 974.4,1420.3 976.0,1421.6 977.6,1422.9 979.0,1424.1 980.5,1425.4 981.9,1426.5 983.3,1427.6 984.8,1428.7 986.2,1429.7 987.7,1430.7 989.1,1431.6 990.6,1432.4 992.0,1433.2 993.4,1434.0 994.9,1434.6 996.5,1435.2 998.0,1435.6 999.7,1435.9 1001.4,1436.1 1003.1,1436.2 1004.8,1436.2 1006.6,1436.1 1008.4,1436.0 1010.3,1435.8 1012.2,1435.6 1014.2,1435.3 1016.2,1434.9 1018.3,1434.3 1020.5,1433.8 1022.6,1433.2 1024.7,1432.7 1026.8,1432.3 1028.7,1432.1 1030.6,1432.0 1032.5,1431.9 1034.3,1432.0 1036.1,1432.1 1037.9,1432.2 1039.6,1432.5 1041.3,1432.8 1042.9,1433.2 1044.5,1433.7 1046.0,1434.4 1047.4,1435.1 1048.8,1435.8 1050.2,1436.6 1051.6,1437.5 1053.1,1438.3 1054.7,1439.1 1056.4,1440.0 1058.1,1440.9 1060.0,1441.9 1061.8,1442.8 1063.6,1443.8 1065.4,1444.7 1067.2,1445.5 1068.9,1446.2 1070.4,1446.9 1071.9,1447.5 1073.2,1448.0 1074.6,1448.5 1075.9,1448.9 1077.4,1449.3 1078.9,1449.6 1080.7,1449.8 1082.7,1449.9 1084.9,1449.9 1087.4,1449.9 1089.8,1449.8 1092.3,1449.7 1094.6,1449.4 1096.6,1449.1 1098.4,1448.6 1099.8,1448.1 1100.9,1447.5 1101.8,1446.8 1102.5,1446.0 1103.2,1445.1 1103.9,1444.1 1104.6,1442.9 1105.5,1441.5 1106.4,1439.9 1107.4,1438.1 1108.4,1436.1 1109.5,1434.0 1110.5,1431.8 1111.6,1429.5 1112.6,1427.2 1113.7,1425.0 1114.9,1422.7 1116.1,1420.2 1117.3,1417.7 1118.5,1415.2 1119.8,1412.7 1121.0,1410.3 1122.1,1408.1 1123.2,1406.1 1124.2,1404.3 1125.1,1402.6 1126.1,1401.1 1126.9,1399.7 1127.8,1398.4 1128.6,1397.3 1129.4,1396.3 1130.3,1395.5 1131.0,1394.8 1131.8,1394.3 1132.5,1394.0 1133.2,1393.8 1133.9,1393.8 1134.6,1393.9 1135.4,1394.0 1136.2,1394.3 1137.0,1394.6 1137.8,1395.0 1138.7,1395.6 1139.6,1396.2 1140.5,1397.0 1141.4,1397.9 1142.3,1399.0 1143.2,1400.2 1144.2,1401.7 1145.2,1403.4 1146.3,1405.4 1147.3,1407.5 1148.4,1409.6 1149.4,1411.7 1150.5,1413.7 1151.5,1415.5 1152.5,1417.2 1153.6,1418.8 1154.6,1420.4 1155.6,1422.0 1156.7,1423.4 1157.7,1424.8 1158.7,1426.1 1159.8,1427.3 1160.8,1428.5 1161.7,1429.5 1162.6,1430.4 1163.5,1431.3 1164.5,1432.1 1165.6,1432.9 1166.7,1433.7 1168.0,1434.4 1169.5,1435.1 1171.2,1435.8 1173.0,1436.4 1174.9,1436.9 1176.8,1437.5 1178.7,1438.0 1180.5,1438.6 1182.2,1439.1 1183.8,1439.7 1185.2,1440.3 1186.6,1440.9 1188.0,1441.4 1189.4,1442.0 1190.9,1442.6 1192.4,1443.2 1194.0,1443.9 1195.8,1444.6 1197.6,1445.5 1199.6,1446.4 1201.6,1447.3 1203.6,1448.2 1205.6,1448.9 1207.5,1449.5 1209.4,1449.8 1211.1,1449.8 1212.7,1449.6 1214.2,1449.2 1215.8,1448.7 1217.3,1448.1 1218.9,1447.5 1220.6,1446.8 1222.3,1446.2 1224.2,1445.6 1226.3,1444.9 1228.4,1444.1 1230.5,1443.2 1232.7,1442.5 1234.8,1441.8 1236.9,1441.3 1238.9,1441.0 1240.8,1441.0 1242.6,1441.1 1244.5,1441.4 1246.2,1441.8 1248.0,1442.3 1249.7,1442.8 1251.4,1443.4 1253.0,1443.9 1254.6,1444.4 1256.1,1445.1 1257.6,1445.9 1259.1,1446.7 1260.5,1447.4 1261.9,1448.0 1263.4,1448.4 1264.8,1448.6 1266.3,1448.5 1267.7,1448.1 1269.2,1447.6 1270.6,1447.0 1272.0,1446.2 1273.5,1445.4 1275.0,1444.6 1276.6,1443.9 1278.3,1443.1 1280.1,1442.2 1281.9,1441.2 1283.7,1440.3 1285.6,1439.3 1287.4,1438.4 1289.1,1437.5 1290.8,1436.8 1292.4,1436.2 1293.9,1435.6 1295.4,1435.1 1296.9,1434.7 1298.3,1434.3 1299.7,1434.0 1301.1,1433.6 1302.6,1433.2 1304.1,1433.0 1305.5,1432.9 1306.9,1432.8 1308.3,1432.8 1309.8,1432.7 1311.3,1432.4 1312.8,1431.8 1314.4,1430.9 1316.1,1429.6 1318.0,1427.9 1319.9,1425.9 1321.8,1423.8 1323.7,1421.6 1325.6,1419.4 1327.3,1417.4 1328.9,1415.5 1330.3,1413.8 1331.6,1412.1 1332.8,1410.5 1333.9,1408.9 1335.0,1407.4 1336.1,1406.0 1337.2,1404.8 1338.3,1403.7 1339.5,1402.8 1340.7,1402.1 1341.9,1401.5 1343.1,1401.0 1344.3,1400.6 1345.5,1400.4 1346.7,1400.2 1347.8,1400.2 1348.9,1400.2 1349.9,1400.3 1351.0,1400.5 1352.0,1400.9 1353.0,1401.3 1354.0,1401.9 1355.0,1402.7 1356.0,1403.7 1357.1,1405.0 1358.1,1406.5 1359.1,1408.3 1360.1,1410.2 1361.1,1412.1 1362.2,1414.1 1363.2,1416.1 1364.3,1417.9 1365.4,1419.7 1366.6,1421.6 1367.8,1423.5 1368.9,1425.4 1370.2,1427.2 1371.4,1428.9 1372.6,1430.6 1373.7,1432.1 1374.9,1433.4 1375.9,1434.7 1377.0,1435.9 1378.0,1437.0 1379.1,1438.0 1380.3,1438.9 1381.7,1439.7 1383.2,1440.3 1384.9,1440.8 1386.9,1441.1 1389.0,1441.3 1391.2,1441.3 1393.4,1441.3 1395.6,1441.2 1397.7,1441.1 1399.7,1441.0 1401.6,1440.9 1403.4,1440.7 1405.2,1440.5 1406.9,1440.2 1408.7,1439.9 1410.4,1439.6 1412.1,1439.4 1413.9,1439.1 1415.7,1438.9 1417.4,1438.7 1419.2,1438.5 1421.0,1438.3 1422.7,1438.1 1424.5,1438.0 1426.3,1437.9 1428.0,1438.0 1429.8,1438.1 1431.5,1438.3 1433.3,1438.5 1435.0,1438.9 1436.7,1439.2 1438.5,1439.6 1440.3,1440.0 1442.2,1440.3 1444.2,1440.7 1446.2,1441.2 1448.2,1441.7 1450.3,1442.2 1452.4,1442.7 1454.6,1443.2 1456.7,1443.6 1458.7,1443.9 1460.8,1444.1 1462.9,1444.3 1465.0,1444.4 1467.2,1444.5 1469.2,1444.5 1471.3,1444.5 1473.3,1444.5 1475.3,1444.3 1477.2,1444.2 1479.0,1444.0 1480.9,1443.8 1482.6,1443.5 1484.4,1443.1 1486.1,1442.7 1487.8,1442.1 1489.4,1441.5 1491.0,1440.7 1492.5,1439.7 1494.0,1438.6 1495.5,1437.5 1496.9,1436.3 1498.3,1435.1 1499.8,1434.1 1501.2,1433.2 1502.7,1432.5 1504.2,1431.7 1505.7,1431.0 1507.1,1430.4 1508.6,1429.9 1510.1,1429.5 1511.6,1429.3 1513.0,1429.2 1514.5,1429.4 1516.0,1429.8 1517.5,1430.4 1519.0,1431.1 1520.5,1431.8 1522.0,1432.7 1523.4,1433.6 1524.8,1434.4 1526.2,1435.4 1527.6,1436.4 1528.9,1437.6 1530.2,1438.8 1531.5,1440.0 1532.8,1441.0 1534.1,1442.0 1535.5,1442.7 1536.8,1443.2 1538.2,1443.7 1539.5,1444.0 1540.9,1444.2 1542.2,1444.3 1543.5,1444.3 1544.8,1444.2 1546.1,1443.9 1547.3,1443.4 1548.5,1442.7 1549.7,1441.8 1550.9,1440.8 1552.0,1439.8 1553.2,1438.8 1554.4,1437.7 1555.5,1436.8 1556.7,1435.9 1557.9,1434.9 1559.1,1433.9 1560.3,1432.9 1561.4,1431.9 1562.6,1431.1 1563.8,1430.3 1565.0,1429.7 1566.2,1429.2 1567.3,1428.9 1568.5,1428.6 1569.7,1428.4 1570.9,1428.4 1572.1,1428.3 1573.2,1428.4 1574.4,1428.5 1575.6,1428.7 1576.8,1429.0 1578.0,1429.3 1579.1,1429.7 1580.3,1430.2 1581.5,1430.7 1582.7,1431.4 1583.9,1432.1 1585.0,1432.9 1586.2,1433.8 1587.3,1434.8 1588.4,1435.8 1589.6,1436.9 1590.8,1438.1 1592.0,1439.2 1593.3,1440.3 1594.7,1441.5 1596.0,1442.8 1597.5,1444.1 1598.9,1445.4 1600.4,1446.7 1601.9,1447.9 1603.5,1448.9 1605.1,1449.8 1606.8,1450.4 1608.5,1451.0 1610.3,1451.4 1612.1,1451.7 1613.9,1451.9 1615.7,1452.0 1617.5,1452.1 1619.3,1452.1 1621.1,1452.1 1622.9,1451.9 1624.7,1451.6 1626.5,1451.3 1628.3,1451.0 1630.1,1450.6 1631.8,1450.2 1633.4,1449.8 1635.0,1449.4 1636.6,1449.0 1638.0,1448.5 1639.5,1448.0 1640.9,1447.6 1642.4,1447.1 1643.8,1446.6 1645.3,1446.2 1646.7,1445.8 1648.2,1445.4 1649.7,1445.0 1651.2,1444.6 1652.6,1444.2 1654.1,1443.9 1655.6,1443.6 1657.1,1443.4 1658.5,1443.3 1660.0,1443.2 1661.4,1443.2 1662.8,1443.3 1664.3,1443.3 1665.7,1443.4 1667.3,1443.4 1668.9,1443.4 1670.5,1443.4 1672.3,1443.4 1674.1,1443.4 1675.9,1443.3 1677.8,1443.3 1679.6,1443.2 1681.4,1443.0 1683.0,1442.7 1684.6,1442.3 1686.1,1441.8 1687.6,1441.1 1689.1,1440.5 1690.5,1439.8 1691.9,1439.1 1693.4,1438.5 1694.8,1438.0 1696.3,1437.5 1697.8,1436.9 1699.4,1436.4 1700.9,1435.9 1702.4,1435.5 1703.9,1435.2 1705.3,1435.0 1706.6,1434.9 1707.9,1435.0 1709.1,1435.1 1710.2,1435.4 1711.4,1435.8 1712.5,1436.3 1713.6,1436.8 1714.8,1437.3 1716.1,1438.0 1717.4,1438.7 1718.7,1439.5 1720.0,1440.4 1721.3,1441.4 1722.7,1442.3 1724.3,1443.3 1726.0,1444.2 1727.9,1445.0 1730.0,1445.8 1732.4,1446.6 1735.0,1447.4 1737.6,1448.2 1740.4,1448.9 1743.1,1449.5 1745.8,1450.0 1748.3,1450.5 1750.8,1450.7 1753.4,1450.9 1755.9,1451.0 1758.4,1451.0 1760.8,1451.0 1763.2,1450.9 1765.5,1450.9 1767.7,1450.8 1769.7,1450.8 1771.7,1450.7 1773.6,1450.7 1775.4,1450.6 1777.1,1450.5 1778.8,1450.3 1780.5,1450.1 1782.2,1449.8 1783.8,1449.5 1785.4,1449.1 1786.9,1448.7 1788.4,1448.2 1789.8,1447.7 1791.3,1447.2 1792.8,1446.7 1794.3,1446.2 1795.8,1445.7 1797.3,1445.2 1798.9,1444.6 1800.5,1444.0 1802.0,1443.4 1803.5,1442.9 1804.9,1442.4 1806.3,1442.0 1807.7,1441.6 1808.9,1441.3 1810.1,1441.1 1811.2,1440.8 1812.4,1440.6 1813.5,1440.5 1814.7,1440.3 1816.0,1440.2 1817.4,1440.1 1819.0,1440.1 1820.7,1440.0 1822.4,1440.1 1823.9,1440.1 1825.4,1440.1 1826.6,1440.2 1827.5,1440.2" fill="none" stroke="#e01010" stroke-width="3.3" stroke-linejoin="round" stroke-linecap="round"/>
<rect x="454.5" y="119.9" width="1378.30" height="302.30" fill="none" stroke="#1a1a1a" stroke-width="2.5"/>
<path d="M730.16 422.20V409.20M730.16 119.90V133.60M1005.82 422.20V409.20M1005.82 119.90V133.60M1281.48 422.20V409.20M1281.48 119.90V133.60M1557.14 422.20V409.20M1557.14 119.90V133.60M454.50 121.10H467.80M1832.80 121.10H1819.50M454.50 257.30H467.80M1832.80 257.30H1819.50M454.50 393.50H467.80M1832.80 393.50H1819.50" stroke="#1a1a1a" stroke-width="2.5" fill="none"/>
<rect x="454.5" y="650.6" width="1378.30" height="304.70" fill="none" stroke="#1a1a1a" stroke-width="2.5"/>
<path d="M724.10 955.30V940.30M724.10 650.60V666.90M993.70 955.30V940.30M993.70 650.60V666.90M1263.30 955.30V940.30M1263.30 650.60V666.90M1532.90 955.30V940.30M1532.90 650.60V666.90M1802.50 955.30V940.30M1802.50 650.60V666.90M454.50 755.00H468.00M1832.80 755.00H1819.30" stroke="#1a1a1a" stroke-width="2.5" fill="none"/>
<rect x="454.5" y="1181.5" width="1378.30" height="307.50" fill="none" stroke="#1a1a1a" stroke-width="2.5"/>
<path d="M724.10 1489.00V1473.00M724.10 1181.50V1195.70M993.70 1489.00V1473.00M993.70 1181.50V1195.70M1263.30 1489.00V1473.00M1263.30 1181.50V1195.70M1532.90 1489.00V1473.00M1532.90 1181.50V1195.70M1802.50 1489.00V1473.00M1802.50 1181.50V1195.70M454.50 1429.20H468.00M1832.80 1429.20H1819.30M454.50 1364.60H468.00M1832.80 1364.60H1819.30M454.50 1301.30H468.00M1832.80 1301.30H1819.30M454.50 1235.00H468.00M1832.80 1235.00H1819.30" stroke="#1a1a1a" stroke-width="2.5" fill="none"/>
<text x="438.00" y="138.60" font-size="48" text-anchor="end" font-weight="normal" fill="#1c1c1c" stroke="#fff" stroke-width="0.7">200</text>
<text x="438.00" y="274.80" font-size="48" text-anchor="end" font-weight="normal" fill="#1c1c1c" stroke="#fff" stroke-width="0.7">0</text>
<text x="438.00" y="411.00" font-size="48" text-anchor="end" font-weight="normal" fill="#1c1c1c" stroke="#fff" stroke-width="0.7">-200</text>
<text x="454.50" y="486.00" font-size="48" text-anchor="middle" font-weight="normal" fill="#1c1c1c" stroke="#fff" stroke-width="0.7">0</text>
<text x="730.16" y="486.00" font-size="48" text-anchor="middle" font-weight="normal" fill="#1c1c1c" stroke="#fff" stroke-width="0.7">50</text>
<text x="1005.82" y="486.00" font-size="48" text-anchor="middle" font-weight="normal" fill="#1c1c1c" stroke="#fff" stroke-width="0.7">100</text>
<text x="1281.48" y="486.00" font-size="48" text-anchor="middle" font-weight="normal" fill="#1c1c1c" stroke="#fff" stroke-width="0.7">150</text>
<text x="1557.14" y="486.00" font-size="48" text-anchor="middle" font-weight="normal" fill="#1c1c1c" stroke="#fff" stroke-width="0.7">200</text>
<text x="1832.80" y="486.00" font-size="48" text-anchor="middle" font-weight="normal" fill="#1c1c1c" stroke="#fff" stroke-width="0.7">250</text>
<text x="438.00" y="972.80" font-size="48" text-anchor="end" font-weight="normal" fill="#1c1c1c" stroke="#fff" stroke-width="0.7">0</text>
<text x="438.00" y="772.50" font-size="48" text-anchor="end" font-weight="normal" fill="#1c1c1c" stroke="#fff" stroke-width="0.7">50</text>
<text x="454.50" y="1020.00" font-size="48" text-anchor="middle" font-weight="normal" fill="#1c1c1c" stroke="#fff" stroke-width="0.7">0</text>
<text x="724.10" y="1020.00" font-size="48" text-anchor="middle" font-weight="normal" fill="#1c1c1c" stroke="#fff" stroke-width="0.7">200</text>
<text x="993.70" y="1020.00" font-size="48" text-anchor="middle" font-weight="normal" fill="#1c1c1c" stroke="#fff" stroke-width="0.7">400</text>
<text x="1263.30" y="1020.00" font-size="48" text-anchor="middle" font-weight="normal" fill="#1c1c1c" stroke="#fff" stroke-width="0.7">600</text>
<text x="1532.90" y="1020.00" font-size="48" text-anchor="middle" font-weight="normal" fill="#1c1c1c" stroke="#fff" stroke-width="0.7">800</text>
<text x="1802.50" y="1020.00" font-size="48" text-anchor="middle" font-weight="normal" fill="#1c1c1c" stroke="#fff" stroke-width="0.7">1000</text>
<text x="438.00" y="1446.70" font-size="48" text-anchor="end" font-weight="normal" fill="#1c1c1c" stroke="#fff" stroke-width="0.7">0</text>
<text x="438.00" y="1382.10" font-size="48" text-anchor="end" font-weight="normal" fill="#1c1c1c" stroke="#fff" stroke-width="0.7">5</text>
<text x="438.00" y="1318.80" font-size="48" text-anchor="end" font-weight="normal" fill="#1c1c1c" stroke="#fff" stroke-width="0.7">10</text>
<text x="438.00" y="1252.50" font-size="48" text-anchor="end" font-weight="normal" fill="#1c1c1c" stroke="#fff" stroke-width="0.7">15</text>
<text x="454.50" y="1551.00" font-size="48" text-anchor="middle" font-weight="normal" fill="#1c1c1c" stroke="#fff" stroke-width="0.7">0</text>
<text x="724.10" y="1551.00" font-size="48" text-anchor="middle" font-weight="normal" fill="#1c1c1c" stroke="#fff" stroke-width="0.7">200</text>
<text x="993.70" y="1551.00" font-size="48" text-anchor="middle" font-weight="normal" fill="#1c1c1c" stroke="#fff" stroke-width="0.7">400</text>
<text x="1263.30" y="1551.00" font-size="48" text-anchor="middle" font-weight="normal" fill="#1c1c1c" stroke="#fff" stroke-width="0.7">600</text>
<text x="1532.90" y="1551.00" font-size="48" text-anchor="middle" font-weight="normal" fill="#1c1c1c" stroke="#fff" stroke-width="0.7">800</text>
<text x="1802.50" y="1551.00" font-size="48" text-anchor="middle" font-weight="normal" fill="#1c1c1c" stroke="#fff" stroke-width="0.7">1000</text>
<text x="1143.65" y="555.10" font-size="52.5" text-anchor="middle" font-weight="normal" fill="#1c1c1c" stroke="#fff" stroke-width="0.7">Time (ms)</text>
<text x="1143.65" y="1088.80" font-size="52.5" text-anchor="middle" font-weight="normal" fill="#1c1c1c" stroke="#fff" stroke-width="0.7">Frequency (Hz)</text>
<text x="1143.65" y="1619.40" font-size="52.5" text-anchor="middle" font-weight="normal" fill="#1c1c1c" stroke="#fff" stroke-width="0.7">Frequency (Hz)</text>
<text x="0" y="0" font-size="52.5" text-anchor="middle" fill="#1c1c1c" stroke="#fff" stroke-width="0.7" transform="translate(320.70 273.00) rotate(-90)">Amplitude</text>
<text x="0" y="0" font-size="52.5" text-anchor="middle" fill="#1c1c1c" stroke="#fff" stroke-width="0.7" transform="translate(362.90 802.70) rotate(-90)">Magnitude</text>
<text x="0" y="0" font-size="52.5" text-anchor="middle" fill="#1c1c1c" stroke="#fff" stroke-width="0.7" transform="translate(362.20 1336.60) rotate(-90)">Amplitude</text>
<text x="1143.65" y="95.40" font-size="52.5" text-anchor="middle" font-weight="bold" fill="#000">Signal</text>
<text x="1143.65" y="628.50" font-size="52.5" text-anchor="middle" font-weight="bold" fill="#000">Spectrum Magnitude</text>
<text x="1143.65" y="1158.50" font-size="52.5" text-anchor="middle" font-weight="bold" fill="#000">Magnitude spectrum filtered</text>
<text x="0" y="0" font-family="'Liberation Serif', 'Times New Roman', serif" font-size="88" font-weight="normal" fill="#000" transform="translate(53.36 300.92) scale(0.9091 0.9823)">(</text>
<text x="0" y="0" font-family="'Liberation Serif', 'Times New Roman', serif" font-size="88" font-weight="bold" fill="#000" transform="translate(80.10 300.22) scale(0.9325 0.9833)">a</text>
<text x="0" y="0" font-family="'Liberation Serif', 'Times New Roman', serif" font-size="88" font-weight="normal" fill="#000" transform="translate(122.16 300.17) scale(0.9136 0.9700)">)</text>
<text x="0" y="0" font-family="'Liberation Serif', 'Times New Roman', serif" font-size="88" font-weight="normal" fill="#000" transform="translate(50.23 849.23) scale(0.9182 0.9873)">(</text>
<text x="0" y="0" font-family="'Liberation Serif', 'Times New Roman', serif" font-size="88" font-weight="bold" fill="#000" transform="translate(76.85 849.40) scale(1.0477 1.0081)">b</text>
<text x="0" y="0" font-family="'Liberation Serif', 'Times New Roman', serif" font-size="88" font-weight="normal" fill="#000" transform="translate(127.95 848.48) scale(0.9182 0.9750)">)</text>
<text x="0" y="0" font-family="'Liberation Serif', 'Times New Roman', serif" font-size="88" font-weight="normal" fill="#000" transform="translate(55.11 1402.28) scale(0.9227 0.9899)">(</text>
<text x="0" y="0" font-family="'Liberation Serif', 'Times New Roman', serif" font-size="88" font-weight="bold" fill="#000" transform="translate(83.04 1401.83) scale(0.9206 0.9744)">c</text>
<text x="0" y="0" font-family="'Liberation Serif', 'Times New Roman', serif" font-size="88" font-weight="normal" fill="#000" transform="translate(119.03 1401.53) scale(0.9227 0.9775)">)</text>
</svg>
</body></html>
